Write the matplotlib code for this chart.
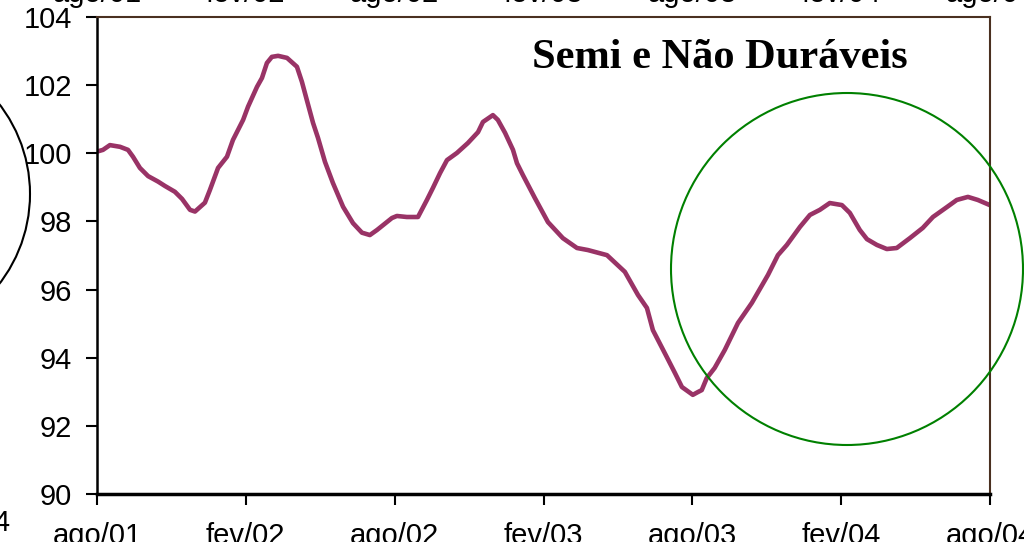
import matplotlib.pyplot as plt
from matplotlib.patches import Circle

# months after ago/01 and index values
months = [0, 0.24, 0.52, 0.93, 1.25, 1.45, 1.73, 2.06, 2.46, 2.74, 3.14, 3.43,
          3.75, 3.95, 4.35, 4.55, 4.88, 5.24, 5.48, 5.89, 6.09, 6.45, 6.65, 6.85,
          7.05, 7.30, 7.66, 8.06, 8.26, 8.46, 8.71, 8.91, 9.19, 9.51, 9.92, 10.32,
          10.68, 11.00, 11.29, 11.53, 11.89, 12.09, 12.49, 12.94, 13.30, 13.54,
          13.83, 14.11, 14.51, 14.95, 15.36, 15.56, 15.96, 16.16, 16.45, 16.77,
          16.93, 17.17, 17.65, 18.18, 18.78, 19.35, 19.79, 20.56, 21.28, 21.81,
          22.17, 22.41, 22.97, 23.30, 23.58, 24.02, 24.22, 24.38, 24.58, 24.90,
          25.31, 25.84, 26.40, 27.05, 27.45, 27.81, 28.34, 28.74, 29.14, 29.54,
          30.03, 30.35, 30.75, 31.04, 31.44, 31.84, 32.24, 32.77, 33.29, 33.70,
          34.26, 34.66, 35.11, 35.51, 35.99]
values = [100.05, 100.10, 100.24, 100.19, 100.10, 99.90, 99.57, 99.33, 99.17,
          99.04, 98.87, 98.66, 98.34, 98.29, 98.55, 98.92, 99.57, 99.90, 100.39,
          100.98, 101.37, 101.95, 102.21, 102.65, 102.83, 102.86, 102.80, 102.54,
          102.10, 101.56, 100.89, 100.45, 99.75, 99.13, 98.43, 97.95, 97.67, 97.60,
          97.75, 97.89, 98.10, 98.16, 98.13, 98.13, 98.63, 98.98, 99.42, 99.80,
          100.01, 100.30, 100.62, 100.92, 101.12, 100.98, 100.60, 100.10, 99.71,
          99.36, 98.69, 97.98, 97.51, 97.22, 97.16, 97.01, 96.52, 95.84, 95.46,
          94.81, 94.02, 93.55, 93.14, 92.91, 92.99, 93.05, 93.40, 93.70, 94.23,
          95.02, 95.61, 96.43, 97.01, 97.31, 97.84, 98.19, 98.34, 98.54, 98.48,
          98.25, 97.75, 97.48, 97.31, 97.19, 97.22, 97.51, 97.81, 98.13, 98.42,
          98.63, 98.72, 98.63, 98.48]

tick_months = [0, 6, 12, 18, 24, 30, 36]
tick_labels = ['ago/01', 'fev/02', 'ago/02', 'fev/03', 'ago/03', 'fev/04', 'ago/04']
y_ticks = [90, 92, 94, 96, 98, 100, 102, 104]

plt.rcParams['font.family'] = ['Liberation Sans', 'DejaVu Sans']

fig = plt.figure(figsize=(10.24, 5.42), dpi=100)
ax = fig.add_axes([97 / 1024, 48 / 542, 893 / 1024, 477 / 542])

ax.plot(months, values, color='#993366', linewidth=3.3, solid_capstyle='round')

ax.set_xlim(0, 36)
ax.set_ylim(90, 104)
ax.set_xticks(tick_months)
ax.set_xticklabels(tick_labels)
ax.set_yticks(y_ticks)
ax.tick_params(axis='both', direction='out', length=8, width=1.5,
               labelsize=21, colors='black')
ax.tick_params(axis='x', pad=12)
ax.tick_params(axis='y', pad=10)

ax.spines['left'].set_linewidth(1.8)
ax.spines['bottom'].set_linewidth(2.5)
for s in ['top', 'right']:
    ax.spines[s].set_color('#4a3020')
    ax.spines[s].set_linewidth(1.5)

ax.text(0.908, (494 - 68) / 477, 'Semi e Não Duráveis', transform=ax.transAxes,
        ha='right', va='baseline', fontsize=30.5, fontweight='bold',
        family='Liberation Serif')

# labels of the chart above, cut by the top edge
for m, lab in zip(tick_months, tick_labels):
    fig.text((97 + m * 893 / 36) / 1024, (542 - 2) / 542, lab,
             ha='center', va='baseline', fontsize=21)

fig.text(9 / 1024, (542 - 531) / 542, '4', ha='right', va='baseline', fontsize=21)

# circles
tr = fig.dpi_scale_trans
fig.patches.append(Circle((8.47, 2.73), 1.76, transform=tr, fill=False,
                          edgecolor='#008000', linewidth=1.5))
fig.patches.append(Circle((-1.17, 3.48), 1.47, transform=tr, fill=False,
                          edgecolor='black', linewidth=1.5))

fig.savefig('out.png', dpi=100)
